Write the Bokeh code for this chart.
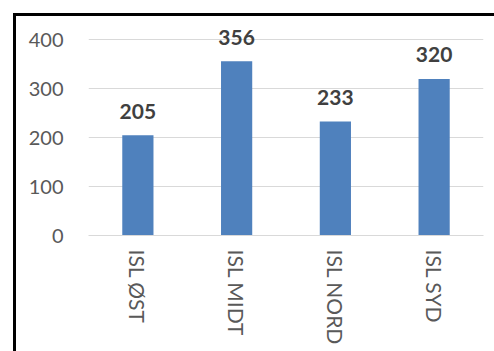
from bokeh.plotting import figure
from bokeh.models import ColumnDataSource, FixedTicker, Range1d
from bokeh.core.properties import value
from bokeh.embed import file_html
from bokeh.resources import INLINE

categories = ["ISL ØST", "ISL MIDT", "ISL NORD", "ISL SYD"]
values = [205, 356, 233, 320]
y_ticks = [0, 100, 200, 300, 400]

src = ColumnDataSource(dict(cat=categories, val=values, lab=[str(v) for v in values]))

p = figure(x_range=categories, y_range=Range1d(0, 439.4), width=478, height=335,
           output_backend="svg", toolbar_location=None,
           min_border_left=72, min_border_right=14, min_border_top=4, min_border_bottom=119)
p.title.visible = False
p.margin = (13, 0, 0, 13)
p.styles = {"border-left": "3px solid black", "border-top": "3px solid black",
            "border-right": "0px none", "border-bottom": "0px none",
            "box-sizing": "content-box"}
p.outline_line_color = None
p.background_fill_color = "white"
p.border_fill_color = "white"

p.vbar(x="cat", top="val", width=0.316, source=src, fill_color="#4F81BD", line_color=None)
p.text(x="cat", y="val", text="lab", source=src, text_align="center", text_baseline="middle",
       y_offset=-24, text_font=value("Lato"), text_font_style="bold", text_font_size="21px",
       text_color="#404040")

p.yaxis.ticker = FixedTicker(ticks=y_ticks)
p.yaxis.axis_line_color = None
p.yaxis.major_tick_line_color = None
p.yaxis.minor_tick_line_color = None
p.yaxis.major_tick_out = 0
p.yaxis.major_label_standoff = 25
p.yaxis.major_label_text_font = "Lato"
p.yaxis.major_label_text_font_size = "20px"
p.yaxis.major_label_text_color = "#595959"

p.xaxis.axis_line_color = "#D9D9D9"
p.xaxis.major_tick_line_color = None
p.xaxis.minor_tick_line_color = None
p.xaxis.major_tick_out = 0
p.xaxis.major_label_standoff = 14
p.xaxis.major_label_orientation = "vertical"
p.xaxis.major_label_text_font = "Lato"
p.xaxis.major_label_text_font_size = "21px"
p.xaxis.major_label_text_color = "#595959"

p.xgrid.grid_line_color = None
p.ygrid.grid_line_color = "#D9D9D9"
p.ygrid.grid_line_width = 1.2

open("out.html", "w").write(file_html(p, INLINE))
